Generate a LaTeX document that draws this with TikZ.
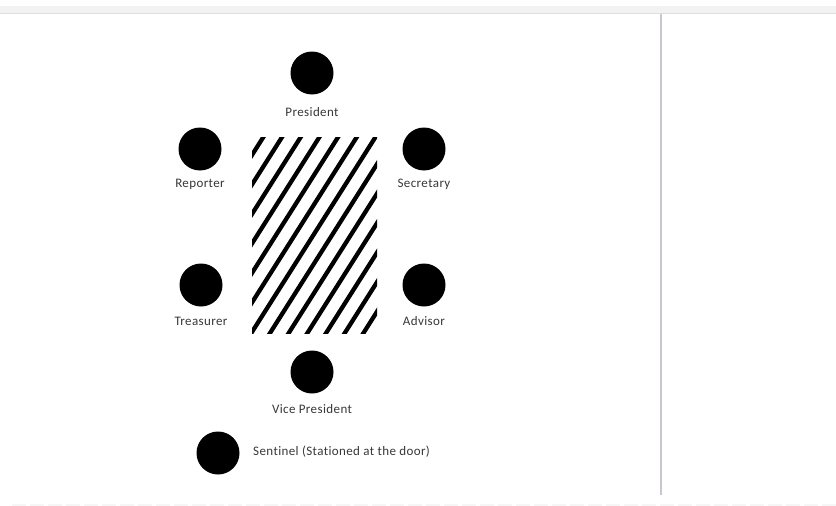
\documentclass[tikz,border=0pt]{standalone}
\usepackage{fontspec}
\setmainfont{Carlito}[LetterSpace=3,Ligatures=NoCommon]
\begin{document}
\begin{tikzpicture}[x=1pt,y=-1pt,
  seat/.style={circle,fill=black,minimum size=43pt,inner sep=0pt},
  lbl/.style={text=black!78,font=\fontsize{13}{15}\selectfont,inner sep=0pt,anchor=center}]
\useasboundingbox (0,0) rectangle (836,506);
\fill[white] (0,0) rectangle (836,506);
% window top band
\fill[black!5] (0,6) rectangle (836,13);
\draw[black!13,line width=1pt] (0,13.5) -- (836,13.5);
% vertical margin line
\coordinate (vt) at (661,14);
\coordinate (vb) at (661,495);
\draw[blue!20!black!22,line width=1.5pt] (vt) -- (vb);
% faint dotted row at bottom
\coordinate (bl) at (12,504.5);
\coordinate (br) at (836,504.5);
\draw[green!10!black!4,line width=2pt,dash pattern=on 14pt off 4pt] (bl) -- (br);
% table with hatching
\begin{scope}
\clip (252,137) rectangle (377,333);
\foreach \k in {-2,...,14}{
  \pgfmathsetmacro{\ya}{155+29.5*\k+90}
  \pgfmathsetmacro{\yb}{155+29.5*\k-300}
  \draw[line width=4.3pt] (195,\ya) -- (442,\yb);
}
\end{scope}
\node[inner sep=0pt,minimum width=125pt,minimum height=196pt] (table) at (314.5,235) {};
% seats
\node[seat] (pres) at (312,73) {};
\node[lbl] (presl) at (312,112) {President};
\node[seat] (rep) at (200,149) {};
\node[lbl] (repl) at (200,184) {Reporter};
\node[seat] (sec) at (424,149) {};
\node[lbl] (secl) at (424,184) {Secretary};
\node[seat] (tre) at (201,285) {};
\node[lbl] (trel) at (201,321) {Treasurer};
\node[seat] (adv) at (424,285) {};
\node[lbl] (advl) at (424,321) {Advisor};
\node[seat] (vp) at (312,372) {};
\node[lbl] (vpl) at (312,409) {Vice President};
\node[seat] (sen) at (218,453) {};
\node[lbl,anchor=west] (senl) at (253,452) {Sentinel (Stationed at the door)};
\end{tikzpicture}
\end{document}
